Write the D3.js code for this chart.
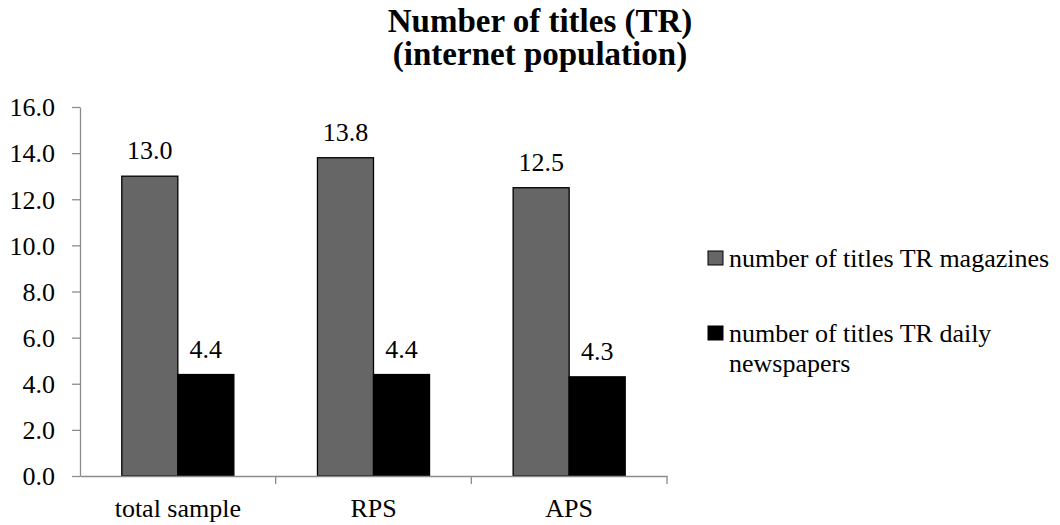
<!DOCTYPE html>
<html>
<head>
<meta charset="utf-8">
<script src="https://cdn.jsdelivr.net/npm/d3@7"></script>
<style>
  html, body { margin: 0; padding: 0; background: #fff; }
  svg { display: block; font-family: "Liberation Serif", "Times New Roman", serif; }
</style>
</head>
<body>
<svg id="chart" width="1060" height="525"></svg>
<script>
// Chart data
const categories = ["total sample", "RPS", "APS"];
const seriesNames = ["number of titles TR magazines", "number of titles TR daily newspapers"];
const magazines = [13.0, 13.8, 12.5];
const dailyNewspapers = [4.4, 4.4, 4.3];
const yTicks = [0, 2, 4, 6, 8, 10, 12, 14, 16];
const seriesColors = ["#666666", "#000000"];

const FONT = "'Liberation Serif', 'Times New Roman', serif";
const FS = 26;

const svg = d3.select("#chart");
const plot = { left: 80, right: 667, top: 107, bottom: 476 };

const x = d3.scaleBand().domain(categories).range([plot.left, plot.right]).padding(0);
const inner = d3.scaleBand().domain(d3.range(seriesNames.length))
  .range([0, x.bandwidth()]).paddingInner(0).paddingOuter(0.746);
const y = d3.scaleLinear().domain([0, 16]).range([plot.bottom, plot.top]);

const fmt = d3.format(".1f");

// Title
const title = svg.append("text")
  .attr("text-anchor", "middle")
  .attr("font-weight", "bold").attr("font-size", 33).attr("fill", "#000");
title.append("tspan").attr("x", 540).attr("y", 32).text("Number of titles (TR)");
title.append("tspan").attr("x", 540).attr("y", 65).text("(internet population)");

// Y axis
const yAxis = svg.append("g")
  .attr("transform", `translate(${plot.left},0)`)
  .call(d3.axisLeft(y).tickValues(yTicks).tickFormat(fmt).tickSize(8).tickSizeOuter(0));
yAxis.select(".domain").attr("stroke", "#8c8c8c").attr("stroke-width", 1.3);
yAxis.selectAll(".tick line").attr("stroke", "#8c8c8c").attr("stroke-width", 1.3);
yAxis.selectAll(".tick text")
  .attr("font-family", FONT)
  .attr("font-size", FS).attr("fill", "#000").attr("x", -25).attr("dy", "0.34em");

// Bars and value labels
const series = [magazines, dailyNewspapers];
series.forEach((vals, si) => {
  svg.append("g").selectAll("rect")
    .data(categories)
    .join("rect")
    .attr("x", (c) => x(c) + inner(si))
    .attr("width", inner.bandwidth())
    .attr("y", (c, i) => y(vals[i]))
    .attr("height", (c, i) => y(0) - y(vals[i]))
    .attr("fill", seriesColors[si])
    .attr("stroke", "#000").attr("stroke-width", 1.3);

  svg.append("g").selectAll("text")
    .data(categories)
    .join("text")
    .attr("x", (c) => x(c) + inner(si) + inner.bandwidth() / 2)
    .attr("y", (c, i) => y(vals[i]) - 17)
    .attr("text-anchor", "middle")
    .attr("font-size", FS).attr("fill", "#000")
    .text((c, i) => fmt(vals[i]));
});

// X axis
const xAxis = svg.append("g")
  .attr("transform", `translate(0,${plot.bottom})`)
  .call(d3.axisBottom(x).tickSize(0).tickSizeOuter(0));
xAxis.select(".domain").attr("stroke", "#8c8c8c").attr("stroke-width", 1.3);
xAxis.selectAll(".tick text")
  .attr("font-family", FONT)
  .attr("font-size", FS).attr("fill", "#000").attr("y", 41).attr("dy", 0);
// Category separators below the axis
const edges = categories.slice(1).map((c) => x(c)).concat([plot.right]);
svg.append("g").selectAll("line")
  .data(edges)
  .join("line")
  .attr("x1", (d) => d).attr("x2", (d) => d)
  .attr("y1", plot.bottom).attr("y2", plot.bottom + 8)
  .attr("stroke", "#8c8c8c").attr("stroke-width", 1.3);

// Legend
const legend = svg.append("g");
const legendRows = [
  { lines: ["number of titles TR magazines"], y: 267 },
  { lines: ["number of titles TR daily", "newspapers"], y: 342 }
];
legendRows.forEach((row, i) => {
  legend.append("rect")
    .attr("x", 708).attr("y", row.y - 16)
    .attr("width", 15).attr("height", 14)
    .attr("fill", seriesColors[i]).attr("stroke", "#000").attr("stroke-width", 1);
  const t = legend.append("text").attr("font-size", FS).attr("fill", "#000");
  row.lines.forEach((ln, k) => {
    t.append("tspan").attr("x", 729).attr("y", row.y + k * 30).text(ln);
  });
});
</script>
</body>
</html>
